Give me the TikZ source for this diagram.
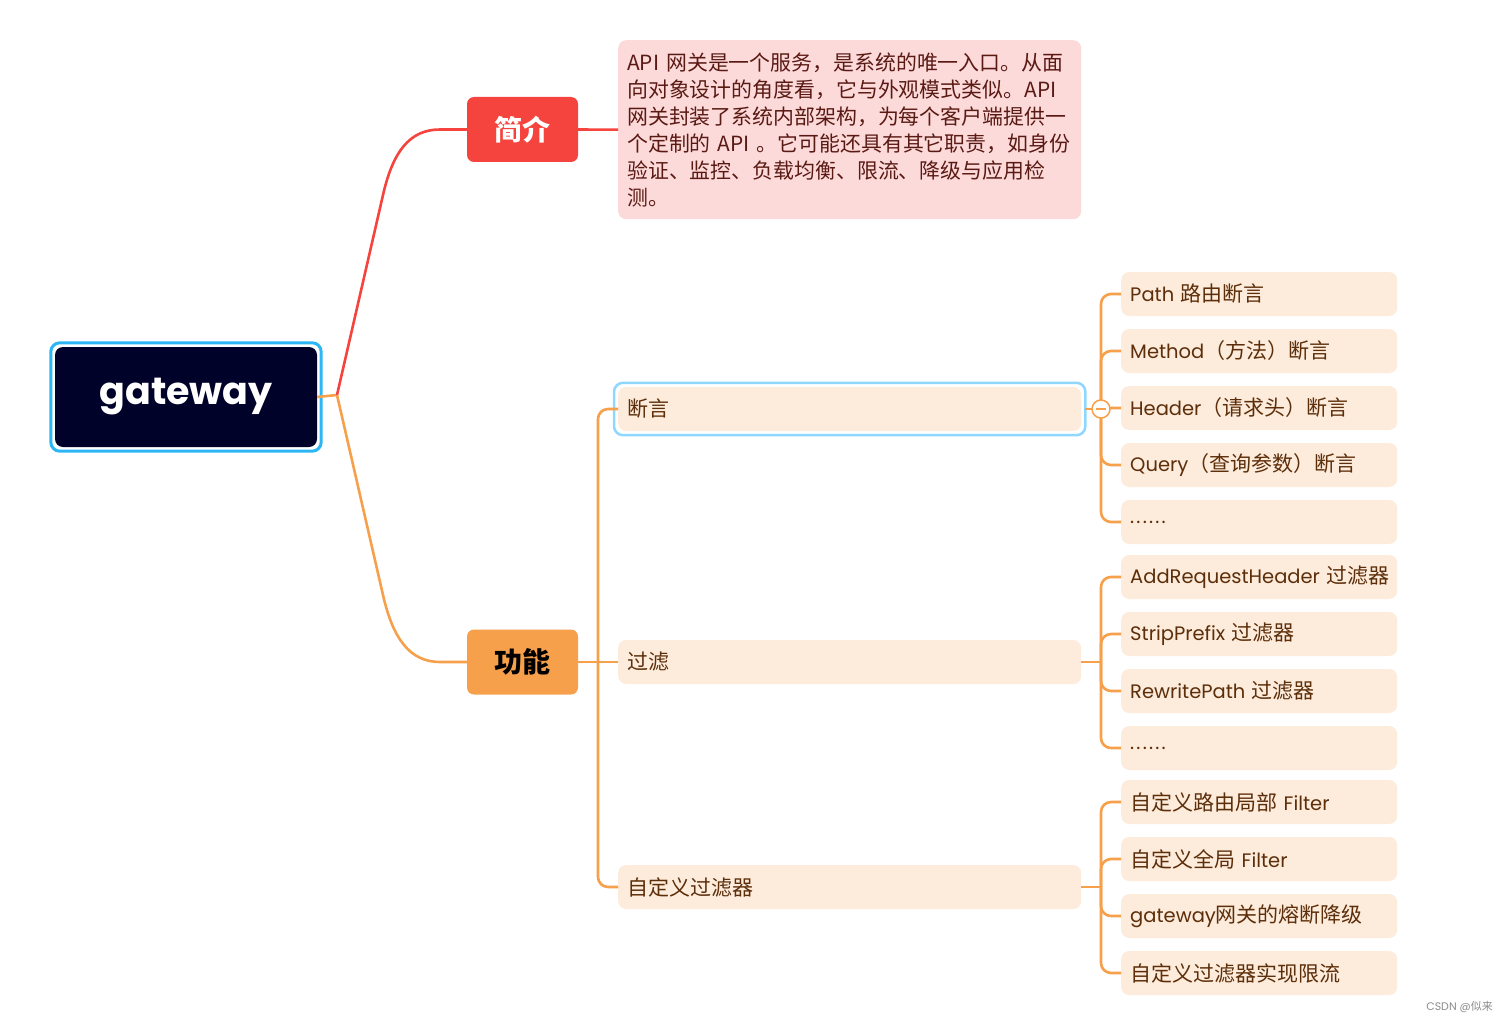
\documentclass[tikz,border=0pt]{standalone}
\usepackage{fontspec}
\setmainfont{Poppins}
\newfontfamily\cjk{Noto Sans CJK SC}
\newcommand\zh[1]{{\cjk\fontsize{21}{24}\selectfont #1}}
\newcommand\sixdots{.\kern2.2pt.\kern2.2pt.\kern2.2pt.\kern2.2pt.\kern2.2pt.}
\definecolor{navy}{HTML}{000229}
\definecolor{gwblue}{HTML}{2DB6F5}
\definecolor{selblue}{HTML}{8FD7FF}
\definecolor{cred}{HTML}{F5433D}
\definecolor{corange}{HTML}{F7A04B}
\definecolor{peach}{HTML}{FDEBDB}
\definecolor{pink}{HTML}{FDDADA}
\definecolor{txtbrown}{HTML}{5C2E0A}
\definecolor{txtmaroon}{HTML}{5A1A14}
\tikzset{
  conn/.style={draw=corange, line width=2.6pt},
  redconn/.style={draw=cred, line width=2.6pt},
  leaf/.style={fill=peach, rounded corners=8pt, text width=258pt, align=left,
    inner xsep=9pt, inner ysep=0pt, minimum height=44pt, anchor=west,
    text=txtbrown, font=\fontsize{19.5}{24}\selectfont},
  midnode/.style={leaf, text width=445pt},
  topic/.style={rounded corners=7pt, minimum width=111pt, minimum height=65pt,
    inner sep=0pt, font=\cjk\fontsize{28}{34}\selectfont\bfseries},
}
\begin{document}
\begin{tikzpicture}[x=1pt,y=-1pt]
\useasboundingbox (0,0) rectangle (1508,1022);

% root
\node[fill=navy, rounded corners=8pt, minimum width=262pt, minimum height=100pt,
  inner sep=0pt, text=white, font=\fontsize{38}{46}\selectfont\bfseries] (gw) at (186,397) {gateway};
\draw[gwblue, line width=3pt, rounded corners=9pt]
  ([shift={(-4pt,4pt)}]gw.north west) rectangle ([shift={(4pt,-4pt)}]gw.south east);

% main topics
\node[topic, fill=cred, text=white] (jj) at (522.5,129.5) {简介};
\node[topic, fill=corange, text=black] (gn) at (522.5,662) {功能};

% intro
\node[fill=pink, rounded corners=8pt, anchor=north west, text width=445pt, inner xsep=9pt,
  inner ysep=0pt, minimum height=179pt, align=left, text=txtmaroon,
  font=\cjk\fontsize{20.9}{27}\selectfont] (intro) at (618,40)
  {API 网关是一个服务，是系统的唯一入口。从面\\
   向对象设计的角度看，它与外观模式类似。API\\
   网关封装了系统内部架构，为每个客户端提供一\\
   个定制的 API 。它可能还具有其它职责，如身份\\
   验证、监控、负载均衡、限流、降级与应用检\\
   测。};

% level 2
\node[midnode] (dy) at (618,409) {\zh{断言}};
\draw[selblue, line width=2.5pt, rounded corners=9pt]
  ([shift={(-4pt,4pt)}]dy.north west) rectangle ([shift={(4pt,-4pt)}]dy.south east);
\node[midnode] (gl) at (618,662) {\zh{过滤}};
\node[midnode] (zd) at (618,887) {\zh{自定义过滤器}};

% level 3
\node[leaf] (a1) at (1121,294) {Path \zh{路由断言}};
\node[leaf] (a2) at (1121,351) {Method\zh{（方法）断言}};
\node[leaf] (a3) at (1121,408) {Header\zh{（请求头）断言}};
\node[leaf] (a4) at (1121,465) {Query\zh{（查询参数）断言}};
\node[leaf] (a5) at (1121,522) {\sixdots};
\node[leaf] (b1) at (1121,577) {\mbox{AddRequestHeader \zh{过滤器}}};
\node[leaf] (b2) at (1121,634) {StripPrefix \zh{过滤器}};
\node[leaf] (b3) at (1121,691) {RewritePath \zh{过滤器}};
\node[leaf] (b4) at (1121,748) {\sixdots};
\node[leaf] (c1) at (1121,802) {\zh{自定义路由局部} Filter};
\node[leaf] (c2) at (1121,859) {\zh{自定义全局} Filter};
\node[leaf] (c3) at (1121,916) {gateway\zh{网关的熔断降级}};
\node[leaf] (c4) at (1121,973) {\zh{自定义过滤器实现限流}};

% connectors root
\coordinate (hub) at (337,395);
\draw[conn] (gw.east) -- (hub);
\draw[redconn] (hub) -- (383,195) .. controls (393,151) and (410,129.5) .. (440,129.5) -- (jj.west);
\draw[conn] (hub) -- (383,595) .. controls (393,639) and (410,662) .. (440,662) -- (gn.west);
\draw[redconn] (jj.east) -- (intro.west);

% level 2 connectors
\coordinate (h2) at (598,662);
\draw[conn] (gn.east) -- (h2);
\draw[conn, rounded corners=10pt] (h2) |- (dy.west);
\draw[conn] (h2) -- (gl.west);
\draw[conn, rounded corners=10pt] (h2) |- (zd.west);

% level 3 connectors
\coordinate (ha) at (1101,409);
\coordinate (hb) at (1101,662);
\coordinate (hc) at (1101,887);
\draw[conn] ([xshift=4pt]dy.east) -- (ha);
\draw[conn] (gl.east) -- (hb);
\draw[conn] (zd.east) -- (hc);
\foreach \n in {a1,a2,a3,a4,a5} \draw[conn, rounded corners=10pt] (ha) |- (\n.west);
\foreach \n in {b1,b2,b3,b4} \draw[conn, rounded corners=10pt] (hb) |- (\n.west);
\foreach \n in {c1,c2,c3,c4} \draw[conn, rounded corners=10pt] (hc) |- (\n.west);

% collapse marker
\node[circle, draw=corange, fill=white, line width=1.5pt, minimum size=18pt, inner sep=0pt] (cc) at (ha) {};
\draw[corange, line width=1.5pt] ([xshift=-5pt]cc.center) -- ([xshift=5pt]cc.center);

% watermark
\node[anchor=east, text=black!45, font=\fontsize{11}{13}\selectfont, inner sep=0pt] (wm) at (1493,1007) {CSDN @{\cjk 似来}};
\end{tikzpicture}
\end{document}
